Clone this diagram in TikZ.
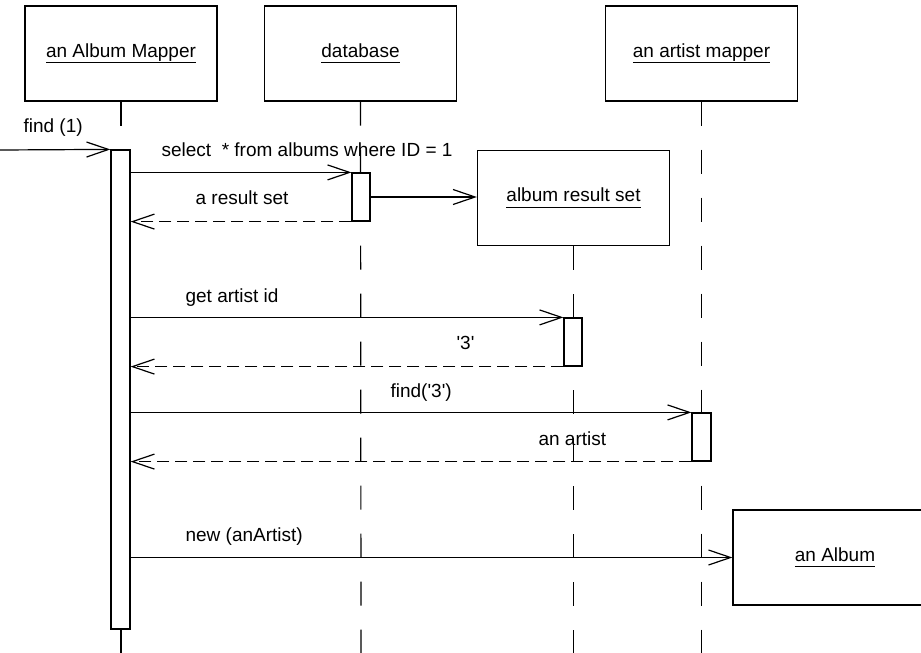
\documentclass[tikz,border=0pt]{standalone}
\usepackage{fontspec}
\setmainfont{Liberation Sans}
\usetikzlibrary{arrows.meta}
\newcommand\ulbl[1]{\leavevmode\vtop{\hbox{\vphantom{p}#1}\kern1pt\hrule height 1pt}}
\newcommand\sq{\textquotesingle}
\begin{document}
\begin{tikzpicture}[x=1pt,y=-1pt,
  line width=1.2pt,
  every node/.style={font=\fontsize{19}{23}\selectfont, inner sep=0pt},
  objbox/.style={draw, fill=white, rectangle, minimum width=192pt, minimum height=95pt},
  actbar/.style={draw, fill=white, rectangle, minimum width=19pt},
  lifeline/.style={dash pattern=on 24pt off 24pt},
  msg/.style={-{Straight Barb[length=22pt,width=15pt]}},
  ret/.style={-{Straight Barb[length=22pt,width=15pt]}, dash pattern=on 12pt off 6pt},
  lbl/.style={anchor=base west}]
\useasboundingbox (0,0) rectangle (921,653);
% object boxes
\node[objbox] (mapper) at (121,53.5) {\ulbl{an Album Mapper}};
\node[objbox] (db) at (360.5,53.5) {\ulbl{database}};
\node[objbox] (artm) at (701.5,53.5) {\ulbl{an artist mapper}};
\node[objbox] (ars) at (573.5,198) {\ulbl{album result set}};
\node[objbox, minimum width=204pt] (album) at (835,557.5) {\ulbl{an Album}};
% lifelines
\coordinate (mapEnd) at (121,653);
\coordinate (dbEnd) at (361,653);
\coordinate (arsEnd) at (573.5,653);
\coordinate (artEnd) at (701.5,653);
\draw[lifeline] (mapper.south) -- (mapEnd);
\draw[lifeline] (db.south) -- (dbEnd);
\draw[lifeline] (ars.south) -- (arsEnd);
\draw[lifeline] (artm.south) -- (artEnd);
% activation bars
\node[actbar, minimum height=479pt] (act1) at (120.5,389.5) {};
\node[actbar, minimum width=18pt, minimum height=48pt] (act2) at (361,197) {};
\node[actbar, minimum width=18pt, minimum height=48pt] (act3) at (573,342) {};
\node[actbar, minimum height=48pt] (act4) at (701.5,437) {};
% messages
\coordinate (caller) at (0,150);
\draw[msg] (caller) -- (act1.north west);
\draw[msg] (act1.east |- act2.north) -- (act2.north west);
\draw[ret] (act2.south west) -- (act1.east |- act2.south);
\draw[msg] (act2.east) -- (act2.east -| ars.west);
\draw[msg] (act1.east |- act3.north) -- (act3.north west);
\draw[ret] (act3.south west) -- (act1.east |- act3.south);
\draw[msg] (act1.east |- act4.north) -- (act4.north west);
\draw[ret] (act4.south west) -- (act1.east |- act4.south);
\draw[msg] (act1.east |- album.west) -- (album.west);
% labels
\node[lbl] (l1) at (23,132) {find (1)};
\node[lbl] (l2) at (161,156) {select\ \ * from albums where ID = 1};
\node[lbl] (l3) at (195,204) {a result set};
\node[lbl] (l4) at (185,302) {get artist id};
\node[lbl] (l5) at (456,349) {\sq3\sq};
\node[lbl] (l6) at (390,397) {find(\sq3\sq)};
\node[lbl] (l7) at (538,445) {an artist};
\node[lbl] (l8) at (185,541) {new (anArtist)};
\end{tikzpicture}
\end{document}
